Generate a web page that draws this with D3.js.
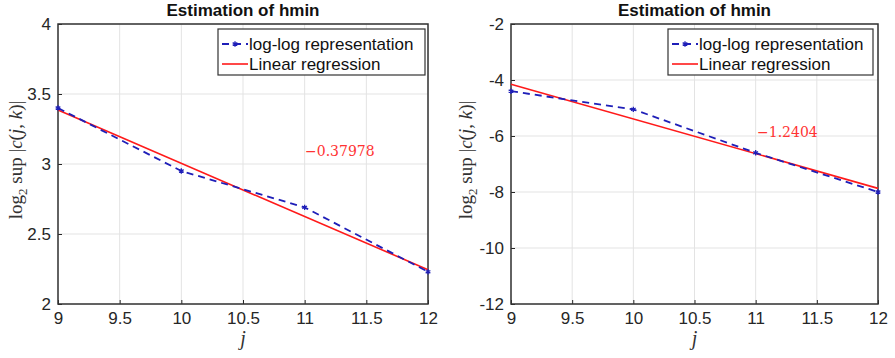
<!DOCTYPE html>
<html>
<head>
<meta charset="utf-8">
<script src="https://cdn.jsdelivr.net/npm/d3@7"></script>
<style>
  body { margin: 0; background: #fff; }
  text { font-family: "Liberation Sans", Arial, sans-serif; }
</style>
</head>
<body>
<div id="chart"></div>
<script>
// values
var jValues = [9, 10, 11, 12];
var xTicks = [9, 9.5, 10, 10.5, 11, 11.5, 12];

var leftLogLog = [3.40, 2.95, 2.69, 2.23];
var leftFitEnds = [3.385, 2.245];
var leftTicks = [2, 2.5, 3, 3.5, 4];
var leftSlope = "\u22120.37978";

var rightLogLog = [-4.40, -5.05, -6.60, -8.00];
var rightFitEnds = [-4.15, -7.87];
var rightTicks = [-12, -10, -8, -6, -4, -2];
var rightSlope = "\u22121.2404";

var legendLabels = ["log-log representation", "Linear regression"];

var svg = d3.select("#chart").append("svg")
    .attr("width", 895)
    .attr("height", 358);

function panel(opts) {
    var x = d3.scaleLinear().domain([9, 12]).range([opts.left, opts.right]);
    var y = d3.scaleLinear().domain(opts.yDomain).range([304, 24]);
    var g = svg.append("g");

    // grid
    g.selectAll(".gx").data(xTicks).enter().append("line")
        .attr("x1", d => x(d)).attr("x2", d => x(d))
        .attr("y1", y.range()[0]).attr("y2", y.range()[1])
        .style("stroke", "#e3e3e3").style("stroke-width", 1);
    g.selectAll(".gy").data(opts.ticks).enter().append("line")
        .attr("x1", opts.left).attr("x2", opts.right)
        .attr("y1", d => y(d)).attr("y2", d => y(d))
        .style("stroke", "#e3e3e3").style("stroke-width", 1);

    // axes
    var xAxis = d3.axisBottom(x).tickValues(xTicks).tickSize(-4).tickPadding(8)
        .tickFormat(d3.format("~g"));
    var yAxis = d3.axisLeft(y).tickValues(opts.ticks).tickSize(-4).tickPadding(7)
        .tickFormat(d => d < 0 ? "-" + Math.abs(d) : d);

    g.append("g").attr("transform", "translate(0,304)").call(xAxis);
    g.append("g").attr("transform", "translate(" + opts.left + ",0)").call(yAxis);
    g.selectAll(".domain").remove();
    g.selectAll(".tick line").style("stroke", "#262626");
    g.selectAll(".tick text").style("font-size", "17px").style("fill", "#262626");

    // box
    g.append("rect")
        .attr("x", opts.left).attr("y", 24)
        .attr("width", opts.right - opts.left).attr("height", 280)
        .style("fill", "none").style("stroke", "#333").style("stroke-width", 1.5);

    // regression line
    g.append("line")
        .attr("x1", x(9)).attr("y1", y(opts.fit[0]))
        .attr("x2", x(12)).attr("y2", y(opts.fit[1]))
        .style("stroke", "#ff1a1a").style("stroke-width", 1.6);

    // log-log dashed
    var line = d3.line().x((d, i) => x(jValues[i])).y(d => y(d));
    g.append("path").datum(opts.data)
        .attr("d", line)
        .style("fill", "none").style("stroke", "#1f1fb8")
        .style("stroke-width", 1.8).style("stroke-dasharray", "7,5");

    var star = d3.symbol().type(d3.symbolAsterisk).size(20);
    g.selectAll(".pt").data(opts.data).enter().append("path")
        .attr("d", star)
        .attr("transform", (d, i) => "translate(" + x(jValues[i]) + "," + y(d) + ")")
        .style("fill", "none").style("stroke", "#1f1fb8").style("stroke-width", 1.3);

    // slope annotation
    g.append("text")
        .attr("x", opts.noteX).attr("y", opts.noteY)
        .style("font-family", "'DejaVu Serif', 'Liberation Serif', serif")
        .style("font-size", "14px").style("fill", "#ff3333")
        .text(opts.note);

    // title
    g.append("text")
        .attr("x", (opts.left + opts.right) / 2).attr("y", 16)
        .attr("text-anchor", "middle")
        .style("font-weight", "bold").style("font-size", "17px").style("fill", "#111")
        .text("Estimation of hmin");

    // x label
    g.append("text")
        .attr("x", (opts.left + opts.right) / 2).attr("y", 345)
        .attr("text-anchor", "middle")
        .style("font-family", "'Liberation Serif', 'DejaVu Serif', serif")
        .style("font-style", "italic").style("font-size", "20px").style("fill", "#333")
        .text("j");

    // y label
    var yl = g.append("text")
        .attr("transform", "translate(" + opts.ylabX + ",160) rotate(-90)")
        .attr("text-anchor", "middle")
        .style("font-family", "'Liberation Serif', 'DejaVu Serif', serif")
        .style("font-size", "19px").style("fill", "#333");
    yl.append("tspan").text("log");
    yl.append("tspan").attr("dy", 5).style("font-size", "13px").text("2");
    yl.append("tspan").attr("dy", -5).text(" sup |");
    yl.append("tspan").style("font-style", "italic").text("c");
    yl.append("tspan").text("(");
    yl.append("tspan").style("font-style", "italic").text("j");
    yl.append("tspan").text(", ");
    yl.append("tspan").style("font-style", "italic").text("k");
    yl.append("tspan").text(")|");

    // legend
    var lg = g.append("g").attr("transform", "translate(" + opts.legX + ",29)");
    lg.append("rect").attr("width", opts.legW).attr("height", 46)
        .style("fill", "#fff").style("stroke", "#333").style("stroke-width", 1.2);
    lg.append("line").attr("x1", 4).attr("x2", 30).attr("y1", 15).attr("y2", 15)
        .style("stroke", "#1f1fb8").style("stroke-width", 1.8).style("stroke-dasharray", "7,5");
    lg.append("path").attr("d", star).attr("transform", "translate(17,15)")
        .style("fill", "none").style("stroke", "#1f1fb8").style("stroke-width", 1.3);
    lg.append("line").attr("x1", 4).attr("x2", 30).attr("y1", 35).attr("y2", 35)
        .style("stroke", "#ff1a1a").style("stroke-width", 1.6);
    lg.selectAll(".lt").data(legendLabels).enter().append("text")
        .attr("x", 31).attr("y", (d, i) => 21 + i * 20)
        .style("font-size", "17px").style("fill", "#111")
        .text(d => d);
}

panel({
    left: 58, right: 428, yDomain: [2, 4], ticks: leftTicks,
    data: leftLogLog, fit: leftFitEnds, note: leftSlope, noteX: 305, noteY: 156,
    ylabX: 22, legX: 218, legW: 207
});
panel({
    left: 511, right: 878, yDomain: [-12, -2], ticks: rightTicks,
    data: rightLogLog, fit: rightFitEnds, note: rightSlope, noteX: 757, noteY: 137,
    ylabX: 472, legX: 668, legW: 205
});
</script>
</body>
</html>
